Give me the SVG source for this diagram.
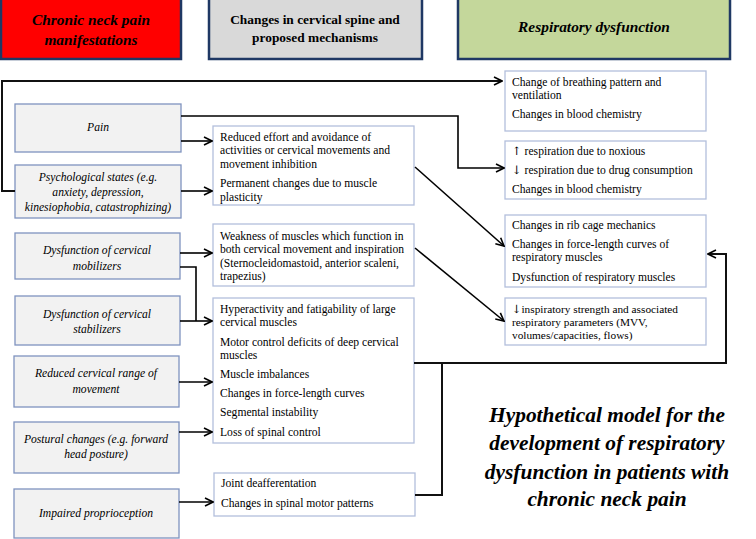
<svg xmlns="http://www.w3.org/2000/svg" width="756" height="539" viewBox="0 0 756 539">
<defs>
<marker id="ah" markerWidth="10" markerHeight="10" refX="9" refY="5" orient="auto" markerUnits="userSpaceOnUse">
<path d="M1,1 L9,5 L1,9" fill="none" stroke="#000" stroke-width="1.6"/>
</marker>
<style>
text{font-family:'Liberation Serif','Times New Roman',Tinos,'DejaVu Serif',serif}
.hdr{stroke:#1f3864;stroke-width:2.5}
.lb{fill:#f2f2f2;stroke:#7f93bf;stroke-width:1.3}
.mb{fill:#fff;stroke:#b3bfdc;stroke-width:1.3}
.lt{font-style:italic;font-size:11.6px;text-anchor:middle;fill:#000}
.mt{font-size:11.6px;fill:#000}
.st{font-size:11.3px;fill:#000}
.ar{font-family:'DejaVu Serif','DejaVu Sans',serif;fill:#000}
.ht{font-weight:bold;text-anchor:middle;fill:#000}
.tt{font-weight:bold;font-style:italic;font-size:21.4px;text-anchor:middle;fill:#000}
.cn{fill:none;stroke:#000;stroke-width:1.6}
.fb{fill:none;stroke:#111;stroke-width:2}
</style>
</defs>
<rect width="756" height="539" fill="#fff"/>

<g id="h1"><rect class="hdr" x="1" y="-2" width="180" height="61" fill="#ff0000"/>
<text class="ht" x="91" y="25" font-size="15.4" font-style="italic">Chronic neck pain</text>
<text class="ht" x="91" y="45" font-size="15.4" font-style="italic">manifestations</text></g>
<g id="h2"><rect class="hdr" x="209" y="-2" width="213" height="61" fill="#d9d9d9"/>
<text class="ht" x="315" y="24" font-size="13.4">Changes in cervical spine and</text>
<text class="ht" x="315" y="42" font-size="13.4">proposed mechanisms</text></g>
<g id="h3"><rect class="hdr" x="458" y="-2" width="272" height="61" fill="#c4d79b"/>
<text class="ht" x="594" y="32" font-size="15.4" font-style="italic">Respiratory dysfunction</text></g>

<g id="pain"><rect class="lb" x="15" y="104" width="166" height="48"/>
<text class="lt" x="98" y="131">Pain</text></g>
<g id="psych"><rect class="lb" x="15" y="165" width="166" height="53"/>
<text class="lt" x="98" y="181">Psychological states (e.g.</text>
<text class="lt" x="98" y="196">anxiety, depression,</text>
<text class="lt" x="98" y="211">kinesiophobia, catastrophizing)</text></g>
<g id="mobil"><rect class="lb" x="15" y="233" width="165" height="46"/>
<text class="lt" x="97" y="254">Dysfunction of cervical</text>
<text class="lt" x="97" y="270">mobilizers</text></g>
<g id="stab"><rect class="lb" x="15" y="296" width="165" height="49"/>
<text class="lt" x="97" y="318">Dysfunction of cervical</text>
<text class="lt" x="97" y="333">stabilizers</text></g>
<g id="rom"><rect class="lb" x="14" y="356" width="165" height="51"/>
<text class="lt" x="96" y="377">Reduced cervical range of</text>
<text class="lt" x="96" y="393">movement</text></g>
<g id="post"><rect class="lb" x="14" y="422" width="165" height="51"/>
<text class="lt" x="96" y="443">Postural changes (e.g. forward</text>
<text class="lt" x="96" y="458">head posture)</text></g>
<g id="prop"><rect class="lb" x="14" y="489" width="165" height="49"/>
<text class="lt" x="96" y="517">Impaired proprioception</text></g>

<g id="m1"><rect class="mb" x="213" y="126" width="201" height="79"/>
<text class="mt" x="220" y="141">Reduced effort and avoidance of</text>
<text class="mt" x="220" y="154">activities or cervical movements and</text>
<text class="mt" x="220" y="168">movement inhibition</text>
<text class="mt" x="220" y="187">Permanent changes due to muscle</text>
<text class="mt" x="220" y="201">plasticity</text></g>
<g id="m2"><rect class="mb" x="213" y="224" width="201" height="62"/>
<text class="mt" x="220" y="240">Weakness of muscles which function in</text>
<text class="mt" x="220" y="253">both cervical movement and inspiration</text>
<text class="mt" x="220" y="267">(Sternocleidomastoid, anterior scaleni,</text>
<text class="mt" x="220" y="280">trapezius)</text></g>
<g id="m3"><rect class="mb" x="213" y="298" width="201" height="145"/>
<text class="mt" x="220" y="313">Hyperactivity and fatigability of large</text>
<text class="mt" x="220" y="326">cervical muscles</text>
<text class="mt" x="220" y="346">Motor control deficits of deep cervical</text>
<text class="mt" x="220" y="359">muscles</text>
<text class="mt" x="220" y="378">Muscle imbalances</text>
<text class="mt" x="220" y="397">Changes in force-length curves</text>
<text class="mt" x="220" y="416">Segmental instability</text>
<text class="mt" x="220" y="436">Loss of spinal control</text></g>
<g id="m4"><rect class="mb" x="214" y="473" width="201" height="43"/>
<text class="mt" x="221" y="487">Joint deafferentation</text>
<text class="mt" x="221" y="507">Changes in spinal motor patterns</text></g>

<g id="r1"><rect class="mb" x="505" y="71" width="201" height="60"/>
<text class="mt" x="512" y="86">Change of breathing pattern and</text>
<text class="mt" x="512" y="99">ventilation</text>
<text class="mt" x="512" y="118">Changes in blood chemistry</text></g>
<g id="r2"><rect class="mb" x="505" y="141" width="201" height="58"/>
<text class="mt" x="512" y="155"><tspan class="ar">↑</tspan> respiration due to noxious</text>
<text class="mt" x="512" y="174"><tspan class="ar">↓</tspan> respiration due to drug consumption</text>
<text class="mt" x="512" y="193">Changes in blood chemistry</text></g>
<g id="r3"><rect class="mb" x="505" y="215" width="201" height="72"/>
<text class="mt" x="512" y="229">Changes in rib cage mechanics</text>
<text class="mt" x="512" y="248">Changes in force-length curves of</text>
<text class="mt" x="512" y="261">respiratory muscles</text>
<text class="mt" x="512" y="281">Dysfunction of respiratory muscles</text></g>
<g id="r4"><rect class="mb" x="505" y="298" width="201" height="47"/>
<text class="st" x="512" y="313"><tspan class="ar">↓</tspan>inspiratory strength and associated</text>
<text class="st" x="512" y="326">respiratory parameters (MVV,</text>
<text class="st" x="512" y="339">volumes/capacities, flows)</text></g>

<g id="title">
<text class="tt" x="607" y="422">Hypothetical model for the</text>
<text class="tt" x="607" y="450">development of respiratory</text>
<text class="tt" x="607" y="479">dysfunction in patients with</text>
<text class="tt" x="607" y="506">chronic neck pain</text></g>

<g id="connectors">
<path class="fb" d="M15,191 H2 V81 H502" marker-end="url(#ah)"/>
<path class="cn" d="M181,116 H458 V168 H504" marker-end="url(#ah)"/>
<path class="cn" d="M181,141 H212" marker-end="url(#ah)"/>
<path class="cn" d="M181,191 H212" marker-end="url(#ah)"/>
<path class="cn" d="M180,253 H212" marker-end="url(#ah)"/>
<path class="cn" d="M180,267 H196 V321"/>
<path class="cn" d="M180,321 H212" marker-end="url(#ah)"/>
<path class="cn" d="M179,382 H212" marker-end="url(#ah)"/>
<path class="cn" d="M179,432 H212" marker-end="url(#ah)"/>
<path class="cn" d="M179,502 H213" marker-end="url(#ah)"/>
<path class="cn" d="M415,167 L504,246" marker-end="url(#ah)"/>
<path class="cn" d="M415,248 L504,321" marker-end="url(#ah)"/>
<path class="fb" d="M415,495 H442 V363"/>
<path class="fb" d="M414,363 H726 V254 H708" marker-end="url(#ah)"/>
</g>
</svg>
